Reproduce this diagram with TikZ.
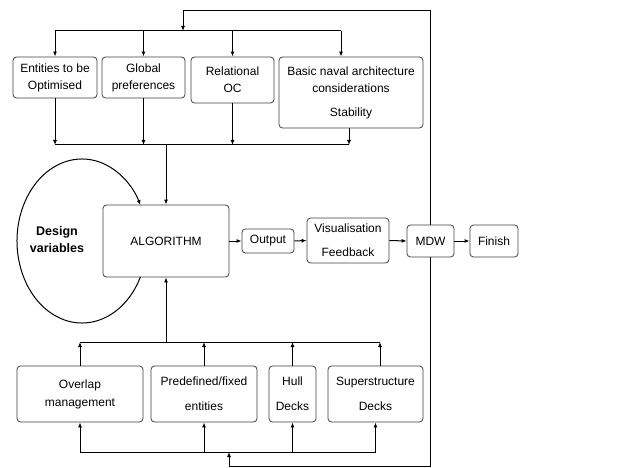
\documentclass[tikz,border=0pt]{standalone}
\usepackage{fontspec}
\setmainfont{Liberation Sans}
\usetikzlibrary{arrows.meta}

\begin{document}
\begin{tikzpicture}[x=1pt,y=-1pt,
  box/.style={draw=black!75,line width=0.8pt,rounded corners=3.5pt,fill=white,
    align=center,inner sep=1pt,font=\fontsize{12}{14}\selectfont},
  arr/.style={-{Latex[length=5pt,width=4pt]}},
  every path/.style={line width=1pt}]
\useasboundingbox (0,0) rectangle (640,468);
% upper inputs
\node[box,minimum width=84pt,minimum height=41pt] (ent) at (55,77.5) {Entities to be\\[3pt]Optimised};
\node[box,minimum width=83pt,minimum height=41pt] (glob) at (143.5,77.5) {Global\\[3pt]preferences};
\node[box,minimum width=83pt,minimum height=46pt] (rel) at (232.5,80) {Relational\\[3pt]OC};
\node[box,minimum width=144pt,minimum height=71pt] (naval) at (351,92.5) {Basic naval architecture\\[3pt]considerations\\[10pt]Stability};
% main row
\node[box,minimum width=126pt,minimum height=72pt] (algo) at (166,241) {ALGORITHM};
\node[box,minimum width=52pt,minimum height=24pt] (out) at (268,241) {Output};
\node[box,minimum width=82pt,minimum height=45pt] (vis) at (348,240.5) {Visualisation\\[10pt]Feedback};
\node[box,minimum width=47pt,minimum height=32pt] (mdw) at (430.5,241) {MDW};
\node[box,minimum width=48pt,minimum height=32pt] (fin) at (494,241) {Finish};
\node[align=center,font=\fontsize{12.5}{14}\selectfont\bfseries] (dv) at (57,240) {Design\\[3pt]variables};
% lower inputs
\node[box,minimum width=126pt,minimum height=56pt] (ovl) at (80,394) {Overlap\\[4pt]management};
\node[box,minimum width=106pt,minimum height=56pt] (pre) at (204,394) {Predefined/fixed\\[11pt]entities};
\node[box,minimum width=47pt,minimum height=56pt] (hull) at (292.5,394) {Hull\\[11pt]Decks};
\node[box,minimum width=95pt,minimum height=56pt] (sup) at (375.5,394) {Superstructure\\[11pt]Decks};

\coordinate (tl) at (183,11);
\coordinate (tj) at (183,31);
\coordinate (mj) at (166,145);
\coordinate (bj) at (166,342);
\coordinate (bb) at (229,452);
\coordinate (bl) at (229,466);

% feedback loop from MDW
\draw[arr] (mdw.north) |- (tl) -- (tj);
\draw[arr] (mdw.south) |- (bl) -- (bb);

\draw (ent.north |- tj) -- ([xshift=-10pt]naval.north |- tj);
\foreach \n in {ent,glob,rel}
  \draw[arr] (\n.north |- tj) -- (\n.north);
\draw[arr] ([xshift=-10pt]naval.north |- tj) -- ([xshift=-10pt]naval.north);

\draw (ent.south |- mj) -- ([xshift=-2pt]naval.south |- mj);
\foreach \n in {ent,glob,rel}
  \draw[arr] (\n.south) -- (\n.south |- mj);
\draw[arr] ([xshift=-2pt]naval.south) -- ([xshift=-2pt]naval.south |- mj);
\draw[arr] (mj) -- (algo.north);

\draw (ovl.north |- bj) -- ([xshift=4.5pt]sup.north |- bj);
\foreach \n in {ovl,pre,hull}
  \draw[arr] (\n.north) -- (\n.north |- bj);
\draw[arr] ([xshift=4.5pt]sup.north) -- ([xshift=4.5pt]sup.north |- bj);
\draw[arr] (bj) -- (algo.south);

\draw (ovl.south |- bb) -- (sup.south |- bb);
\foreach \n in {ovl,pre,hull,sup}
  \draw[arr] (\n.south |- bb) -- (\n.south);

\draw[arr] (algo.east) -- (out.west);
\draw[arr] (out.east) -- (vis.west);
\draw[arr] (vis.east) -- (mdw.west);
\draw[arr] (mdw.east) -- (fin.west);

% design variables loop
\draw[arr] (82,241) ++(26:65 and 82) arc[start angle=26,end angle=334,x radius=65,y radius=82];
\end{tikzpicture}
\end{document}
